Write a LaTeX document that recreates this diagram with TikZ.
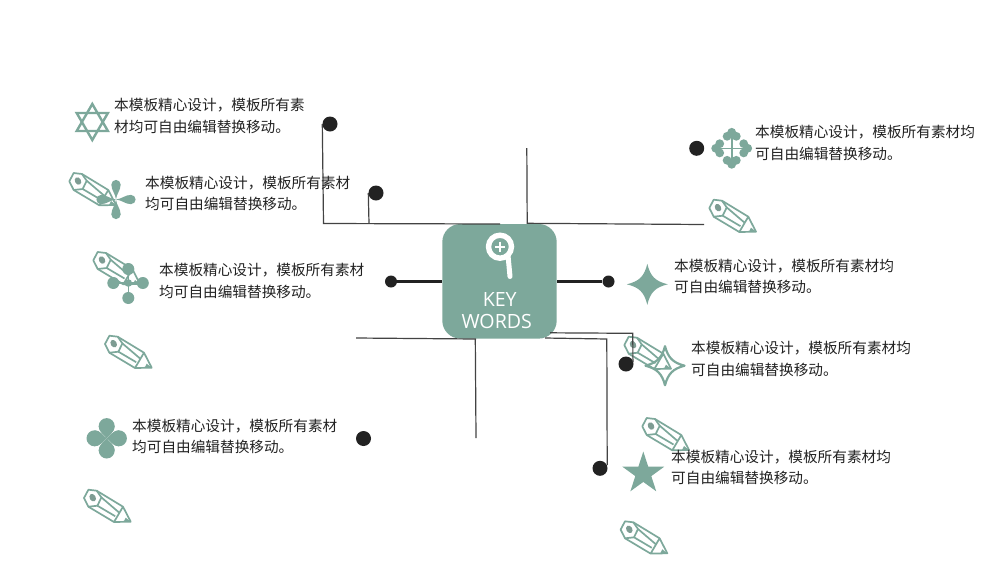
\documentclass[tikz,border=0pt]{standalone}
\usepackage{fontspec}
\setmainfont{Open Sans}
\newfontfamily\cjk{Noto Sans CJK SC}
\definecolor{sage}{HTML}{7DA89B}
\definecolor{ink}{HTML}{222222}
\tikzset{
  dotnode/.style={circle,fill=ink,draw=none,inner sep=0pt,minimum size=15pt},
  smalldot/.style={circle,fill=ink,draw=none,inner sep=0pt,minimum size=12pt},
  wire/.style={draw=ink!85,line width=1.2pt},
  thick wire/.style={draw=ink,line width=2.8pt},
  txt/.style={anchor=west,align=left,inner sep=0pt,text=ink,font=\cjk\fontsize{14.65}{21.5}\selectfont},
  keytxt/.style={text=white,inner sep=0pt,font=\fontsize{19.6}{22}\selectfont},
  pencilicon/.pic={
    \draw[sage,line width=1.7pt,line join=round,fill=white]
      (-46.7,-23.7)--(-42.3,-32)--(-34,-31)--(-29.3,-24.3)--(-33.3,-16)--(-42.3,-15)--cycle;
    \draw[sage,line width=1.7pt,line join=round]
      (-34,-31)--(-7.7,-15)--(0,0)--(-16.7,0.3)--(-42.3,-15)
      (-29.3,-24.3)--(-12,-9.5)
      (-33.3,-16)--(-15.5,-5.5)
      (-7.7,-15)--(-16.7,0.3);
    \fill[sage] (-5,-4)--(0,0)--(-7,0)--cycle;
    \fill[sage!70!gray,rotate around={30:(-38,-24)}] (-38,-24) ellipse (3pt and 4pt);
  },
  petal/.pic={
    \fill[sage] (0,0) .. controls (-0.6,-6) and (-4.6,-9) .. (-4.6,-15) -- (4.6,-15) .. controls (4.6,-9) and (0.6,-6) .. (0,0) -- cycle;
    \fill[sage] (0,-15) circle (4.6pt);
  },
  lobe/.pic={
    \fill[sage] (0,0) .. controls (-1.5,-2.5) and (-8,-6) .. (-8,-12.2) -- (8,-12.2) .. controls (8,-6) and (1.5,-2.5) .. (0,0) -- cycle;
    \fill[sage] (0,-12.2) circle (8pt);
  },
  trefoil/.pic={
    \fill[sage] (0,-16) circle (4.4pt) (-4.6,-12) circle (4.4pt) (4.6,-12) circle (4.4pt);
    \draw[sage,line width=1.6pt] (0,-12) -- (0,0);
  },
}
\begin{document}
\begin{tikzpicture}[x=1pt,y=-1pt]
\useasboundingbox[fill=white] (0,0) rectangle (1000,563);
% pencils
\foreach \p in {(116,205),(140,284),(151.7,367.7),(130.7,521.7),(756,231.7),(671,368.7),(689,450),(667.3,553.3)}
  \path \p pic {pencilicon};
% icons
\begin{scope}[shift={(92.3,122)}]
  \draw[sage,line width=2.4pt,line join=miter] (0,-18) -- (15.6,9) -- (-15.6,9) -- cycle;
  \draw[sage,line width=2.4pt,line join=miter] (0,18) -- (15.6,-9) -- (-15.6,-9) -- cycle;
\end{scope}
\begin{scope}[shift={(116,199.5)}]
  \foreach \a in {0,90,180,270} \path (0,0) pic[rotate=\a] {petal};
\end{scope}
\begin{scope}[shift={(128.3,283)}]
  \draw[sage,line width=1.6pt] (0,-14) -- (0,15) (-15,0) -- (14.5,0);
  \fill[sage] (0,0) circle (3.8pt) (0,-14) circle (6pt) (14.5,0) circle (6pt) (-15,0) circle (6pt) (0,15) circle (6pt);
\end{scope}
\begin{scope}[shift={(106.7,438.3)}]
  \foreach \a in {0,90,180,270} \path (0,0) pic[rotate=\a] {lobe};
\end{scope}
\begin{scope}[shift={(731.7,148.3)}]
  \foreach \a in {0,90,180,270} \path (0,0) pic[rotate=\a] {trefoil};
\end{scope}
\fill[sage,shift={(647.3,284.3)}] (0,-20.5) .. controls (3,-8) and (8,-3) .. (20.5,0) .. controls (8,3) and (3,8) .. (0,20.5) .. controls (-3,8) and (-8,3) .. (-20.5,0) .. controls (-8,-3) and (-3,-8) .. (0,-20.5) -- cycle;
\draw[sage,line width=2.2pt,line join=round,shift={(665,365.7)}] (0,-19.5) .. controls (3,-8) and (8,-3) .. (19.5,0) .. controls (8,3) and (3,8) .. (0,19.5) .. controls (-3,8) and (-8,3) .. (-19.5,0) .. controls (-8,-3) and (-3,-8) .. (0,-19.5) -- cycle;
\fill[sage,shift={(643.3,473.5)}] (-90:22) -- (-126:8.4) -- (-162:22) -- (-198:8.4) -- (-234:22) -- (-270:8.4) -- (-306:22) -- (-342:8.4) -- (-18:22) -- (-54:8.4) -- cycle;
% centre box
\node (box) [fill=sage,rounded corners=18pt,minimum width=114.4pt,minimum height=114.6pt,inner sep=0pt] at (499.5,281.3) {};
\node (lens) [circle,draw=white,line width=5.4pt,minimum size=23pt,inner sep=0pt] at (500,246.7) {};
\draw[white,line width=5pt,line cap=round] (lens.south east) ++(-2,-1) -- (510,276.5);
\draw[white,line width=2pt] (500,241.7) -- (500,251.7) (495,246.7) -- (505,246.7);
\node (key) [keytxt] at (499.7,299.3) {KEY};
\node (words) [keytxt] at (496.7,321.3) {WORDS};
% dots
\node (d1) [dotnode] at (330,124) {};
\node (d2) [dotnode] at (376,193) {};
\node (d3) [dotnode] at (696.7,148.3) {};
\node (d4) [smalldot] at (391,281.5) {};
\node (d5) [smalldot] at (608.5,281.5) {};
\node (d6) [dotnode] at (626,364) {};
\node (d7) [dotnode] at (600,468.3) {};
\node (d8) [dotnode] at (363.5,438.5) {};
\coordinate (a1) at (323.5,223.5);
\coordinate (a2) at (369,223.5);
\coordinate (a3) at (500,224);
\coordinate (b1) at (526.8,148);
\coordinate (b2) at (527.2,223.3);
\coordinate (b3) at (704,224.5);
\coordinate (c1) at (356,338);
\coordinate (c2) at (475.3,339);
\coordinate (c3) at (476,438);
\coordinate (c4) at (476,339);
\coordinate (e1) at (545,338);
\coordinate (e2) at (606.8,339);
\coordinate (e3) at (607.2,465);
\coordinate (f1) at (550,332.8);
\coordinate (f2) at (632.8,333.3);
\coordinate (f3) at (632.9,362);
% connectors
\draw[wire] (d1.west) -- (a1) -- (a3);
\draw[wire] (d2.west) -- (a2);
\draw[wire] (b1) -- (b2) -- (b3);
\draw[wire] (c1) -- (c4);
\draw[wire] (c2) -- (c3);
\draw[wire] (e1) -- (e2) -- (e3);
\draw[wire] (f1) -- (f2) -- (f3);
\draw[thick wire] (d4) -- (box.west |- d4);
\draw[thick wire] (d5) -- (box.east |- d5);
% texts
\node (t1) [txt] at (114,116) {本模板精心设计，模板所有素\\材均可自由编辑替换移动。};
\node (t2) [txt] at (145,193.5) {本模板精心设计，模板所有素材\\均可自由编辑替换移动。};
\node (t3) [txt] at (159,281) {本模板精心设计，模板所有素材\\均可自由编辑替换移动。};
\node (t4) [txt] at (132,436.5) {本模板精心设计，模板所有素材\\均可自由编辑替换移动。};
\node (t5) [txt] at (755,143) {本模板精心设计，模板所有素材均\\可自由编辑替换移动。};
\node (t6) [txt] at (674,276.5) {本模板精心设计，模板所有素材均\\可自由编辑替换移动。};
\node (t7) [txt] at (691,359) {本模板精心设计，模板所有素材均\\可自由编辑替换移动。};
\node (t8) [txt] at (671,467.5) {本模板精心设计，模板所有素材均\\可自由编辑替换移动。};
\end{tikzpicture}
\end{document}
